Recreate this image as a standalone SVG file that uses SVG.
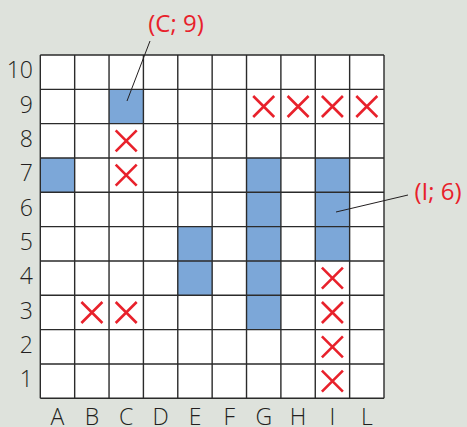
<svg xmlns="http://www.w3.org/2000/svg" width="467" height="427" viewBox="0 0 467 427">
<style>
.lbl{font-family:"Open Sans","Liberation Sans",sans-serif;font-size:23px;font-weight:300;fill:#231f20;}
.row{text-anchor:end;}
.col{text-anchor:middle;}
.red{font-family:"Open Sans","Liberation Sans",sans-serif;font-size:24px;fill:#e8212b;text-anchor:middle;}
.cell{fill:#7ca7d8;}
.grid{stroke:#2b2b2b;stroke-width:1.4;fill:none;}
.x{stroke:#e8212b;stroke-width:2.6;fill:none;}
.lead{stroke:#231f20;stroke-width:1;fill:none;}
</style>
<defs>
<path id="xm" class="x" d="M-10.5,-10.5 L10.5,10.5 M10.5,-10.5 L-10.5,10.5"/>
</defs>
<rect x="0" y="0" width="467" height="427" fill="#dee2dc"/>
<g id="board">
<rect x="40.3" y="55" width="343.7" height="343.3" fill="#ffffff"/>
<g id="ships">
<rect class="cell" x="109.04" y="89.33" width="34.37" height="34.33"/>
<rect class="cell" x="40.3" y="157.99" width="34.37" height="34.33"/>
<rect class="cell" x="246.52" y="157.99" width="34.37" height="171.65"/>
<rect class="cell" x="315.26" y="157.99" width="34.37" height="102.99"/>
<rect class="cell" x="177.78" y="226.65" width="34.37" height="68.66"/>
</g>
<path class="grid" d="M40.3,55V398.3M74.67,55V398.3M109.04,55V398.3M143.41,55V398.3M177.78,55V398.3M212.15,55V398.3M246.52,55V398.3M280.89,55V398.3M315.26,55V398.3M349.63,55V398.3M384,55V398.3M40.3,55H384M40.3,89.33H384M40.3,123.66H384M40.3,157.99H384M40.3,192.32H384M40.3,226.65H384M40.3,260.98H384M40.3,295.31H384M40.3,329.64H384M40.3,363.97H384M40.3,398.3H384"/>
<g id="misses">
<use href="#xm" x="126.2" y="140.8"/>
<use href="#xm" x="126.2" y="175.2"/>
<use href="#xm" x="263.7" y="106.5"/>
<use href="#xm" x="298.1" y="106.5"/>
<use href="#xm" x="332.4" y="106.5"/>
<use href="#xm" x="366.8" y="106.5"/>
<use href="#xm" x="91.9" y="312.5"/>
<use href="#xm" x="126.2" y="312.5"/>
<use href="#xm" x="332.4" y="278.1"/>
<use href="#xm" x="332.4" y="312.5"/>
<use href="#xm" x="332.4" y="346.8"/>
<use href="#xm" x="332.4" y="381.1"/>
</g>
</g>
<g id="row-labels">
<text class="lbl row" x="33" y="78.3">10</text>
<text class="lbl row" x="33" y="112.6">9</text>
<text class="lbl row" x="33" y="147">8</text>
<text class="lbl row" x="33" y="181.3">7</text>
<text class="lbl row" x="33" y="215.6">6</text>
<text class="lbl row" x="33" y="250">5</text>
<text class="lbl row" x="33" y="284.3">4</text>
<text class="lbl row" x="33" y="318.6">3</text>
<text class="lbl row" x="33" y="353">2</text>
<text class="lbl row" x="33" y="387.3">1</text>
</g>
<g id="col-labels">
<text class="lbl col" x="57.5" y="425">A</text>
<text class="lbl col" x="91.9" y="425">B</text>
<text class="lbl col" x="126.2" y="425">C</text>
<text class="lbl col" x="160.6" y="425">D</text>
<text class="lbl col" x="195" y="425">E</text>
<text class="lbl col" x="229.3" y="425">F</text>
<text class="lbl col" x="263.7" y="425">G</text>
<text class="lbl col" x="298.1" y="425">H</text>
<text class="lbl col" x="332.4" y="425">I</text>
<text class="lbl col" x="366.8" y="425">L</text>
</g>
<g id="connectors">
<line class="lead" x1="150" y1="41" x2="127" y2="101"/>
<line class="lead" x1="408" y1="195" x2="336" y2="212"/>
</g>
<g id="label-c9">
<text class="red" x="176" y="31.5">(C; 9)</text>
</g>
<g id="label-i6">
<text class="red" x="438" y="200">(I; 6)</text>
</g>
</svg>
